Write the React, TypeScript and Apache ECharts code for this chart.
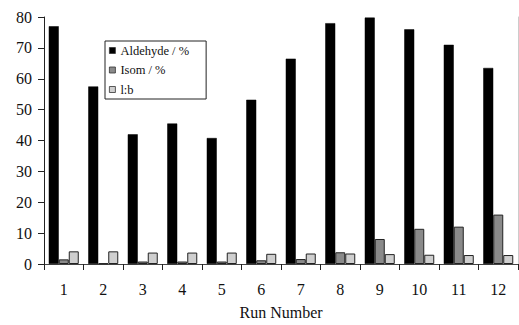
import React, { useEffect, useRef } from "react";
import * as echarts from "echarts";

const categories = ["1", "2", "3", "4", "5", "6", "7", "8", "9", "10", "11", "12"];
const aldehyde = [77, 57.5, 42, 45.5, 40.8, 53.2, 66.5, 78, 79.8, 76, 71, 63.5];
const isom = [1.5, 0.2, 0.8, 0.8, 0.8, 1.2, 1.6, 3.8, 8.1, 11.4, 12.1, 16.0];
const lb = [4.1, 4.1, 3.7, 3.7, 3.7, 3.3, 3.4, 3.4, 3.2, 3.0, 2.9, 2.9];
const yTicks = { min: 0, max: 80, interval: 10 };

const FONT = "Liberation Serif";

export default function App() {
  const ref = useRef<HTMLDivElement>(null);
  useEffect(() => {
    document.body.style.margin = "0";
    if (!ref.current) return;
    const chart = echarts.init(ref.current, null, { renderer: "svg" });
    chart.setOption({
      animation: false,
      backgroundColor: "#fff",
      textStyle: { fontFamily: FONT },
      grid: { left: 44, right: 1, top: 17, bottom: 57, containLabel: false },
      legend: {
        orient: "vertical",
        left: 105,
        top: 41,
        itemWidth: 6,
        itemHeight: 6,
        itemGap: 6.5,
        padding: [3, 17, 3, 4],
        borderColor: "#222",
        borderWidth: 1,
        textStyle: { fontFamily: FONT, fontSize: 12.5, color: "#111" },
        data: [
          { name: "Aldehyde / %", icon: "rect", itemStyle: { color: "#000", borderColor: "#333", borderWidth: 0.8 } },
          { name: "Isom / %", icon: "rect", itemStyle: { color: "#8a8a8a", borderColor: "#333", borderWidth: 0.8 } },
          { name: "l:b", icon: "rect", itemStyle: { color: "#cfcfcf", borderColor: "#333", borderWidth: 0.8 } },
        ],
      },
      xAxis: [
        {
          type: "category",
          data: categories,
          axisLine: { lineStyle: { color: "#222", width: 1 } },
          axisTick: { show: true, interval: 0, length: 6, lineStyle: { color: "#222" } },
          axisLabel: { fontSize: 16, color: "#111", fontFamily: FONT, margin: 17, interval: 0 },
          name: "Run Number",
          nameLocation: "middle",
          nameGap: 40,
          nameTextStyle: { fontSize: 16, color: "#111", fontFamily: FONT },
        },
        {
          type: "category",
          data: categories,
          position: "top",
          axisLine: { show: true, lineStyle: { color: "#444", width: 1 } },
          axisTick: { show: false },
          axisLabel: { show: false },
        },
      ],
      yAxis: [
        {
          type: "value",
          min: yTicks.min,
          max: yTicks.max,
          interval: yTicks.interval,
          axisLine: { show: true, lineStyle: { color: "#222", width: 1 } },
          axisTick: { show: true, length: 6, lineStyle: { color: "#222" } },
          axisLabel: { fontSize: 16, color: "#111", fontFamily: FONT, margin: 12 },
          splitLine: { show: false },
        },
        {
          type: "value",
          min: yTicks.min,
          max: yTicks.max,
          interval: yTicks.interval,
          position: "right",
          axisLine: { show: true, lineStyle: { color: "#ccc", width: 1 } },
          axisTick: { show: false },
          axisLabel: { show: false },
          splitLine: { show: false },
        },
      ],
      series: [
        {
          name: "Aldehyde / %",
          type: "bar",
          data: aldehyde,
          barWidth: 10,
          barGap: "0%",
          itemStyle: { color: "#000", borderColor: "#000", borderWidth: 0.5 },
        },
        {
          name: "Isom / %",
          type: "bar",
          data: isom,
          barWidth: 10,
          barGap: "0%",
          itemStyle: { color: "#8a8a8a", borderColor: "#222", borderWidth: 1 },
        },
        {
          name: "l:b",
          type: "bar",
          data: lb,
          barWidth: 10,
          barGap: "0%",
          itemStyle: { color: "#cfcfcf", borderColor: "#222", borderWidth: 1 },
        },
      ],
    });
    return () => chart.dispose();
  }, []);
  return <div ref={ref} style={{ width: 519, height: 325 }} />;
}
